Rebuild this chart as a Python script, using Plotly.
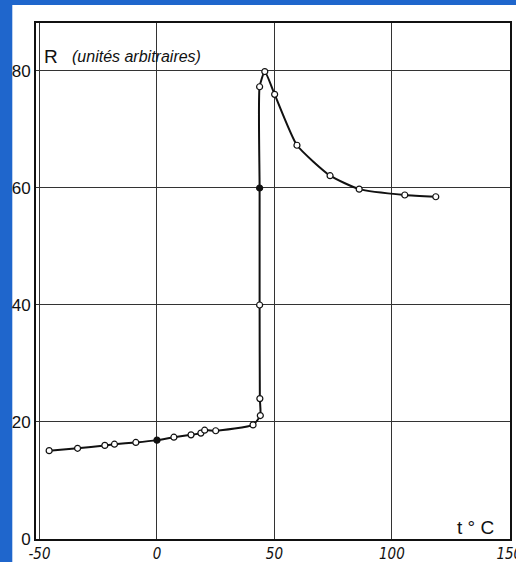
import plotly.graph_objects as go

# Data
t_vals = [-45.9, -33.8, -22.2, -18.1, -9.0, 0.0, 7.2, 14.5, 18.7, 20.3, 25.0, 40.9,
          44.0, 43.8, 43.7, 43.7, 43.7, 45.9, 50.1, 59.6, 73.7, 86.1, 105.5, 118.7]
r_vals = [15.1, 15.5, 16.0, 16.2, 16.5, 16.9, 17.4, 17.8, 18.1, 18.6, 18.5, 19.5,
          21.1, 24.0, 40.0, 60.0, 77.3, 79.9, 76.0, 67.3, 62.1, 59.8, 58.8, 58.5]
filled = [False, False, False, False, False, True, False, False, False, False, False, False,
          False, False, False, True, False, False, False, False, False, False, False, False]

x_ticks = [-50, 0, 50, 100, 150]
x_tick_labels = ["-50", "0", "50", "100", "150"]
y_ticks = [0, 20, 40, 60, 80]
y_tick_labels = ["0", "20", "40", "60", "80"]

fig = go.Figure()
fig.add_trace(go.Scatter(
    x=t_vals, y=r_vals, mode="lines+markers",
    line=dict(color="#111111", width=2, shape="spline", smoothing=0.5),
    marker=dict(size=6, symbol="circle",
                color=["#111111" if f else "white" for f in filled],
                line=dict(color="#111111", width=1.2)),
    showlegend=False, hoverinfo="skip", cliponaxis=False,
))

# white paper area (blue border on left/top)
fig.add_shape(type="rect", xref="paper", yref="paper",
              x0=-0.05, x1=1.03, y0=-0.06, y1=1.035,
              fillcolor="white", line=dict(width=0), layer="below")

fig.add_annotation(x=0.012, y=0.935, xref="paper", yref="paper", text="R",
                   showarrow=False, xanchor="left", yanchor="middle",
                   font=dict(size=19, color="#111111", family="Liberation Sans, Arial"))
fig.add_annotation(x=0.072, y=0.935, xref="paper", yref="paper", text="(unités arbitraires)",
                   showarrow=False, xanchor="left", yanchor="middle",
                   font=dict(size=16, color="#111111", family="Liberation Sans, Arial",
                             style="italic"))
fig.add_annotation(x=0.97, y=0.022, xref="paper", yref="paper", text="t ° C",
                   showarrow=False, xanchor="right", yanchor="middle",
                   font=dict(size=19, color="#111111", family="Liberation Sans, Arial"))

fig.update_layout(
    width=516, height=562,
    margin=dict(l=36, r=6, t=23, b=23),
    paper_bgcolor="#1f66cc",
    plot_bgcolor="white",
    xaxis=dict(range=[-51.5, 150.3], tickvals=x_ticks, ticktext=x_tick_labels,
               automargin=False, ticklabeloverflow="allow",
               showgrid=True, gridcolor="#333333", gridwidth=1,
               showline=True, linecolor="#111111", linewidth=2, mirror=True,
               zeroline=False, ticks="",
               tickfont=dict(size=15, color="#111111", style="italic",
                             family="Liberation Sans Narrow, DejaVu Sans Condensed, Arial")),
    yaxis=dict(range=[0, 88.2], tickvals=y_ticks, ticktext=y_tick_labels,
               automargin=False,
               showgrid=True, gridcolor="#333333", gridwidth=1,
               showline=True, linecolor="#111111", linewidth=2, mirror=True,
               zeroline=False, ticks="",
               tickfont=dict(size=17, color="#111111", family="Liberation Sans, Arial")),
)

fig.write_html("out.html", config={"displayModeBar": False},
               post_script="document.body.style.margin='0';document.body.style.overflow='hidden';")
